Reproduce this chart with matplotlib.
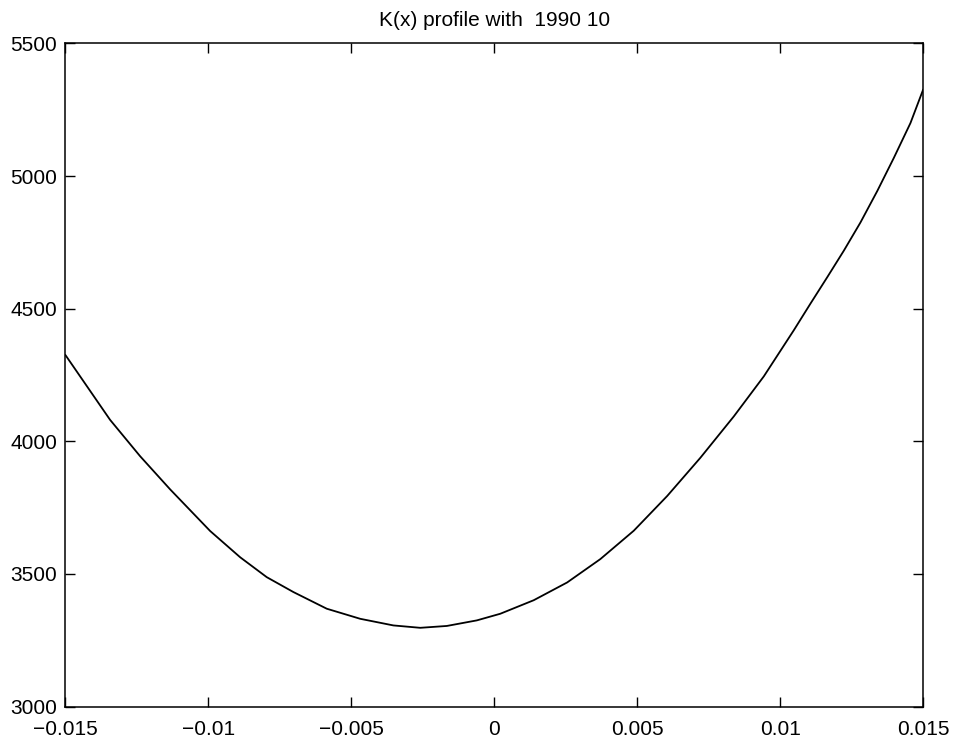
import matplotlib
matplotlib.use("Agg")
import matplotlib.pyplot as plt

plt.rcParams['font.family'] = ['Liberation Sans', 'DejaVu Sans']

# Data
x_vals = [-0.01500, -0.01344, -0.01239, -0.01134, -0.00994, -0.00889, -0.00796,
          -0.00703, -0.00586, -0.00469, -0.00353, -0.00259, -0.00166, -0.00061,
          0.00021, 0.00138, 0.00255, 0.00371, 0.00488,
          0.00605, 0.00721, 0.00838, 0.00943,
          0.01048, 0.01106, 0.01165, 0.01223, 0.01281, 0.01340,
          0.01398, 0.01456, 0.01500]
k_vals = [4325, 4081, 3944, 3819, 3662, 3563, 3488,
          3432, 3369, 3331, 3306, 3297, 3304, 3325,
          3350, 3401, 3468, 3556, 3663,
          3794, 3938, 4094, 4245,
          4419, 4519, 4619, 4719, 4825, 4944,
          5069, 5200, 5325]

x_ticks = [-0.015, -0.01, -0.005, 0, 0.005, 0.01, 0.015]
x_tick_labels = ['\u22120.015', '\u22120.01', '\u22120.005', '0', '0.005', '0.01', '0.015']
y_ticks = [3000, 3500, 4000, 4500, 5000, 5500]
y_tick_labels = ['3000', '3500', '4000', '4500', '5000', '5500']
title = 'K(x) profile with  1990 10'

fig = plt.figure(figsize=(9.59, 7.43), dpi=100)
ax = fig.add_axes([0.0683, 0.049, 0.8942, 0.8925])
ax.plot(x_vals, k_vals, color='black', linewidth=1.3, solid_joinstyle='round')
ax.set_xlim(-0.015, 0.015)
ax.set_ylim(3000, 5500)
ax.set_xticks(x_ticks)
ax.set_xticklabels(x_tick_labels)
ax.set_yticks(y_ticks)
ax.set_yticklabels(y_tick_labels)
ax.tick_params(direction='in', length=7, width=1, labelsize=15,
               top=True, right=True)
ax.tick_params(axis='x', pad=10)
ax.tick_params(axis='y', pad=6)
for s in ax.spines.values():
    s.set_linewidth(1.1)
ax.set_title(title, fontsize=15, pad=12.5)
fig.savefig('out.png', dpi=100)
